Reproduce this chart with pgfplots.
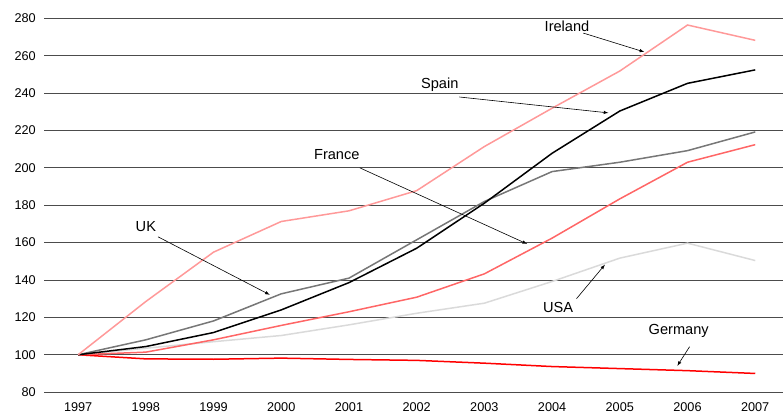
\documentclass[border=0pt]{standalone}
\usepackage{fontspec}
\setmainfont{Liberation Sans}
\usepackage{pgfplots}
\pgfplotsset{compat=1.18}
\definecolor{cIre}{HTML}{FF9999}
\definecolor{cFra}{HTML}{FF6666}
\definecolor{cUK}{HTML}{777777}
\definecolor{cUSA}{HTML}{DADADA}
\definecolor{cGer}{HTML}{FF0000}
\begin{document}
\begin{tikzpicture}[x=1pt,y=1pt]
\useasboundingbox (-44.3,-22.7) rectangle (739,392.3);
\begin{axis}[
  at={(0,0)}, anchor=south west,
  scale only axis, width=739pt, height=374pt,
  xmin=1996.5, xmax=2007.41, ymin=80, ymax=280,
  xtick={1997,...,2007}, ytick={80,100,...,280},
  axis line style={draw=none},
  major tick length=0pt,
  ymajorgrids, grid style={black!70, line width=0.9pt},
  /pgf/number format/assume math mode=true,
  /pgf/number format/1000 sep={},
  tick label style={font=\fontsize{12.7}{14}\selectfont},
  yticklabel style={xshift=-5pt},
  xticklabel style={yshift=-7pt},
  clip=false,
  every axis plot/.append style={line width=1.5pt, no markers},
]
\addplot[cUSA] coordinates {(1997,100)(1998,103.5)(1999,107)(2000,110.3)(2001,116)(2002,122.2)(2003,127.6)(2004,139.2)(2005,151.7)(2006,159.7)(2007,150.4)};
\addplot[cGer] coordinates {(1997,100)(1998,97.8)(1999,97.6)(2000,98.2)(2001,97.5)(2002,97)(2003,95.5)(2004,93.7)(2005,92.6)(2006,91.5)(2007,90)};
\addplot[cFra] coordinates {(1997,100)(1998,101.4)(1999,108)(2000,115.7)(2001,123)(2002,130.8)(2003,143.3)(2004,162.4)(2005,183.4)(2006,203)(2007,212.4)};
\addplot[cUK] coordinates {(1997,100)(1998,108)(1999,118.1)(2000,132.6)(2001,141)(2002,161.5)(2003,182)(2004,198)(2005,203)(2006,209.2)(2007,219.2)};
\addplot[black] coordinates {(1997,100)(1998,104.4)(1999,111.9)(2000,124)(2001,138.6)(2002,157)(2003,181.1)(2004,207.8)(2005,230.4)(2006,245.2)(2007,252.4)};
\addplot[cIre] coordinates {(1997,100)(1998,128.5)(1999,154.9)(2000,171.3)(2001,177)(2002,187.8)(2003,211.4)(2004,231.9)(2005,251.8)(2006,276.4)(2007,268.2)};
\tikzset{lab/.style={font=\fontsize{14.6}{16}\selectfont}, arr/.style={-latex, line width=0.6pt, black}}
\node[lab] at (axis cs:2004.22,275.9) {Ireland};
\draw[arr] (axis cs:2004.46,272.1) -- (axis cs:2005.36,262);
\node[lab] at (axis cs:2002.34,244.4) {Spain};
\draw[arr] (axis cs:2002.63,237.9) -- (axis cs:2004.83,229.4);
\node[lab] at (axis cs:2000.82,206.9) {France};
\draw[arr] (axis cs:2001.16,200) -- (axis cs:2003.63,159.3);
\node[lab] at (axis cs:1998.0,168.4) {UK};
\draw[arr] (axis cs:1998.18,163.1) -- (axis cs:1999.83,132.1);
\node[lab] at (axis cs:2004.09,125.1) {USA};
\draw[arr] (axis cs:2004.36,130.0) -- (axis cs:2004.78,148.2);
\node[lab] at (axis cs:2005.87,112.8) {Germany};
\draw[arr] (axis cs:2006.03,104.3) -- (axis cs:2005.85,94.1);
\end{axis}
\end{tikzpicture}
\end{document}
